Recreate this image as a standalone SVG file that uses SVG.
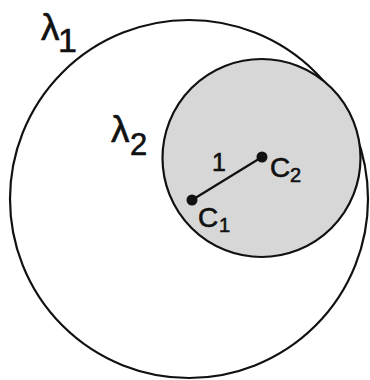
<svg xmlns="http://www.w3.org/2000/svg" width="370" height="380" viewBox="0 0 370 380">
<style>
.c{stroke:#111;stroke-width:2.2}
.t{font-family:"Liberation Sans",Arial,sans-serif;fill:#111;stroke:#111;stroke-width:0.6}
</style>
<rect width="370" height="380" fill="#fff"/>
<g id="lambda1">
<circle class="c" cx="189" cy="199" r="179" fill="none"/>
<text class="t" x="41" y="40" font-size="37">λ</text>
<text class="t" x="58" y="52" font-size="34">1</text>
</g>
<g id="lambda2">
<circle class="c" cx="261.5" cy="158" r="99" fill="#d7d7d7"/>
<text class="t" x="111" y="142" font-size="37">λ</text>
<text class="t" x="130" y="155" font-size="31">2</text>
</g>
<g id="connectors">
<line class="c" x1="192" y1="200" x2="262" y2="157"/>
<text class="t" x="212" y="171" font-size="25">1</text>
</g>
<g id="C1">
<circle cx="192" cy="200" r="5.5" fill="#111"/>
<text class="t" x="198" y="227" font-size="28">C</text>
<text class="t" x="219" y="232" font-size="20">1</text>
</g>
<g id="C2">
<circle cx="262" cy="157" r="5.5" fill="#111"/>
<text class="t" x="270" y="177" font-size="28">C</text>
<text class="t" x="290" y="182" font-size="20">2</text>
</g>
</svg>
